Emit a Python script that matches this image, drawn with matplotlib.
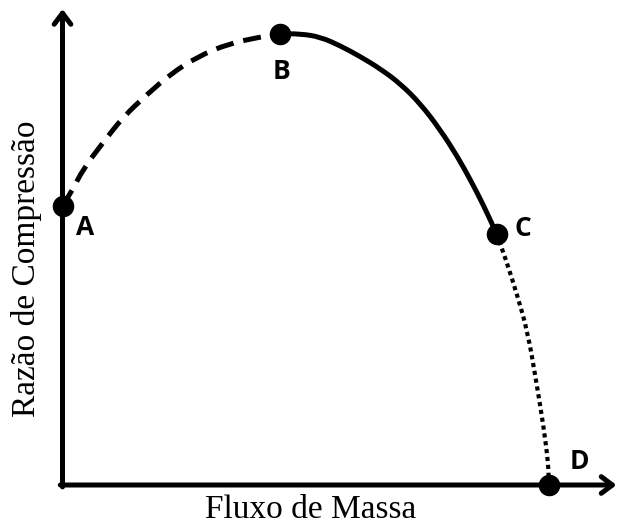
import matplotlib.pyplot as plt
from matplotlib.path import Path
from matplotlib.patches import PathPatch

# curve segments (x = mass flow, y = compression ratio)
surge_x = [0.00, 0.19, 0.41, 0.78, 1.19, 1.67, 2.12, 2.64, 3.25, 3.88, 4.25]
surge_y = [6.19, 6.53, 7.01, 7.57, 8.16, 8.67, 9.11, 9.49, 9.78, 9.93, 10.00]

stable_x = [4.25, 4.66, 5.05, 5.45, 5.84, 6.23, 6.62, 7.01, 7.40, 7.74, 7.99, 8.25, 8.50]
stable_y = [10.00, 10.00, 9.93, 9.73, 9.49, 9.22, 8.89, 8.45, 7.87, 7.27, 6.76, 6.19, 5.57]

choke_x = [8.50, 8.68, 8.91, 9.11, 9.27, 9.42, 9.52, 9.52]
choke_y = [5.57, 5.01, 4.19, 3.39, 2.35, 1.31, 0.42, 0.00]

point_labels = ['A', 'B', 'C', 'D']
point_x = [0.00, 4.25, 8.50, 9.52]
point_y = [6.19, 10.00, 5.57, 0.00]
label_offsets = [(16, -16), (1.5, -27), (19, 4), (22, 17)]


def smooth_path(xs, ys):
    # quadratic bezier through the midpoints, read points used as control points
    pts = list(zip(xs, ys))
    verts = [pts[0]]
    codes = [Path.MOVETO]
    mid = lambda p, q: ((p[0] + q[0]) / 2, (p[1] + q[1]) / 2)
    verts.append(mid(pts[0], pts[1]))
    codes.append(Path.LINETO)
    for i in range(1, len(pts) - 1):
        verts += [pts[i], mid(pts[i], pts[i + 1])]
        codes += [Path.CURVE3, Path.CURVE3]
    verts.append(pts[-1])
    codes.append(Path.LINETO)
    return Path(verts, codes)


fig = plt.figure(figsize=(6.18, 5.26), dpi=100)
ax = fig.add_axes([62.5 / 618, 41 / 526, 554 / 618, 476 / 526])
ax.set_xlim(0, 10.85)
ax.set_ylim(0, 10.55)
ax.axis('off')

# axes drawn as arrows
arrow = dict(arrowstyle='->,head_length=0.8,head_width=0.6', lw=3.6, color='black',
             shrinkA=0, shrinkB=0)
ax.annotate('', xy=(1, 0), xytext=(-0.004, 0), xycoords='axes fraction', arrowprops=arrow)
ax.annotate('', xy=(0, 1), xytext=(0, -0.004), xycoords='axes fraction', arrowprops=arrow)

ax.add_patch(PathPatch(smooth_path(surge_x, surge_y), fill=False, color='black', lw=3.6,
                       linestyle=(0, (3.6, 2.0)), capstyle='butt'))
ax.add_patch(PathPatch(smooth_path(stable_x, stable_y), fill=False, color='black', lw=3.6))
ax.add_patch(PathPatch(smooth_path(choke_x, choke_y), fill=False, color='black', lw=3.0,
                       linestyle=(0, (1, 0.9))))

ax.plot(point_x, point_y, 'o', color='black', markersize=14.5, clip_on=False, zorder=5)
for lab, x, y, off in zip(point_labels, point_x, point_y, label_offsets):
    ax.annotate(lab, xy=(x, y), xytext=off, textcoords='offset points',
                ha='center', va='center', fontsize=19, fontweight='bold',
                family='Open Sans')

fig.text(311 / 618, 1 - 510 / 526, 'Fluxo de Massa', ha='center', va='center',
         fontsize=24, family='Liberation Serif')
fig.text(27 / 618, 1 - 269 / 526, 'Razão de Compressão', ha='center', va='center',
         rotation=90, fontsize=24, family='Liberation Serif')

fig.savefig('out.png', dpi=100)
